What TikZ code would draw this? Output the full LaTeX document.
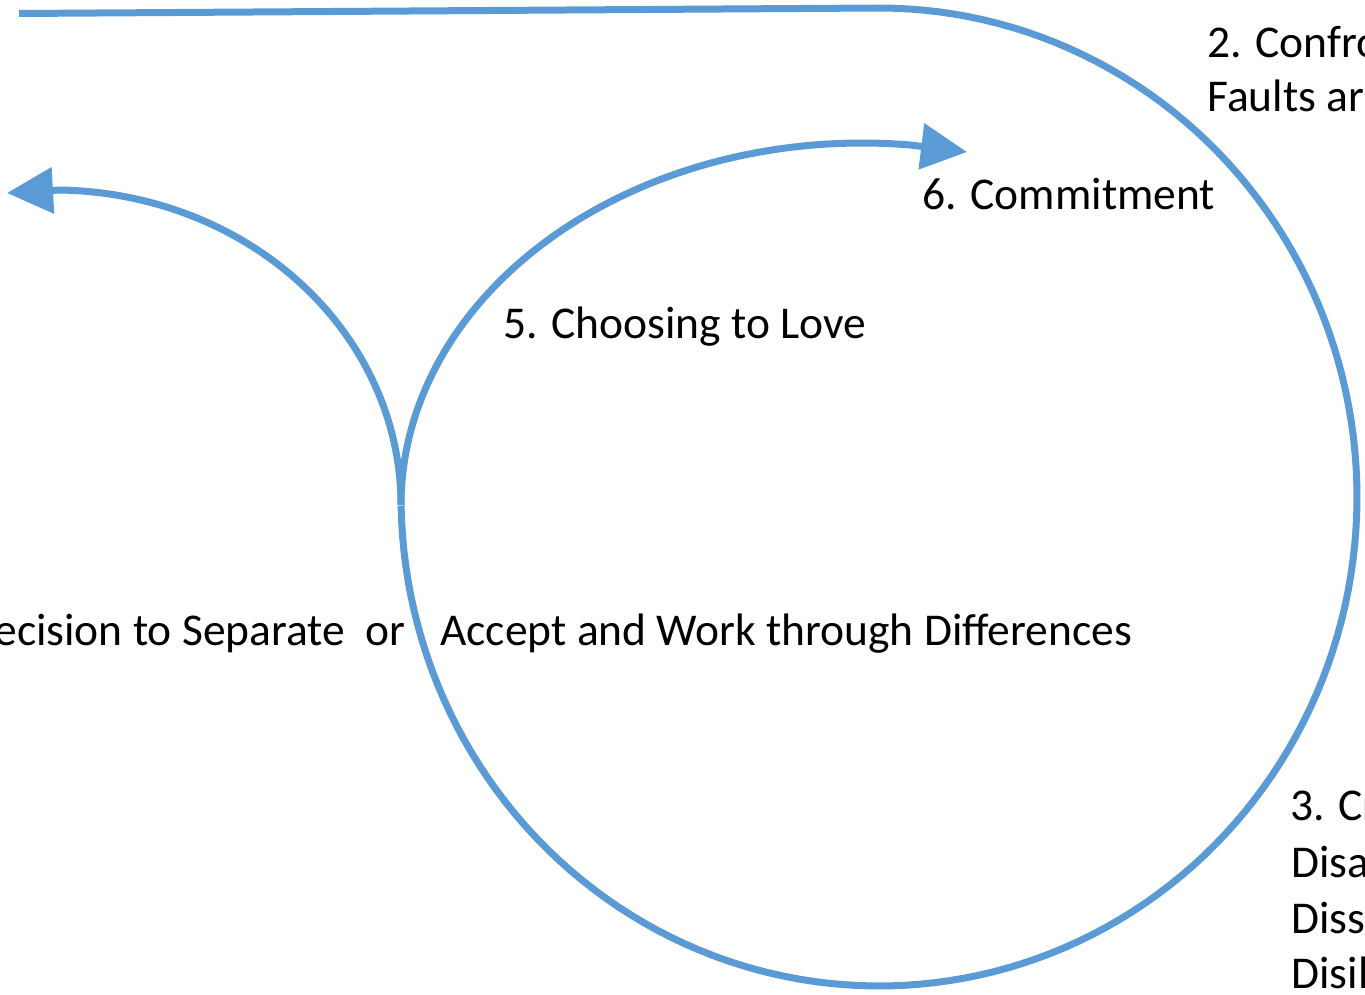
\documentclass[tikz,border=0pt]{standalone}
\usepackage{fontspec}
\setmainfont{Carlito}
\usetikzlibrary{arrows.meta}
\definecolor{lblue}{HTML}{5B9BD5}
\begin{document}
\begin{tikzpicture}[x=0.5pt,y=-0.5pt,
  spiral/.style={draw=lblue, line width=3.5pt, line join=round},
  tipped/.style={-{Triangle[length=23pt,width=22.5pt]}},
  lbl/.style={font=\fontsize{22.75pt}{27.5pt}\selectfont, inner sep=0pt, anchor=base west, text=black}]
\useasboundingbox (0,0) rectangle (1365,995);
% named points of the spiral
\coordinate (topstart) at (19,13.5);
\coordinate (toptop) at (879,8);
\coordinate (junction) at (401,505);
\coordinate (lefttip) at (7,193);
\coordinate (righttip) at (967,152);
% big loop
\draw[spiral] (topstart) -- (toptop)
  -- plot[domain=-90:179, samples=150, variable=\t] ({879+478*cos(\t)},{497+489*sin(\t)});
% branch to the left
\draw[spiral, tipped] plot[domain=0:-89, samples=90, variable=\t] ({54+347*cos(\t)},{505+315*sin(\t)}) -- (lefttip);
% branch to the right
\draw[spiral, tipped] plot[domain=180:276, samples=100, variable=\t] ({862+461*cos(\t)},{505+362*sin(\t)}) -- (righttip);
% labels
\node[lbl] (t2a) at (1207,58) {2. Confro};
\node[lbl] (t2b) at (1207,112) {Faults ar};
\node[lbl] (t6) at (922,209) {6. Commitment};
\node[lbl] (t5) at (503,338) {5. Choosing to Love};
\node[lbl, anchor=base east] (t4a) at (406,645) {ecision to Separate\ \ or};
\node[lbl] (t4b) at (440,645) {Accept and Work through Differences};
\node[lbl] (t3a) at (1290,820) {3. Cr};
\node[lbl] (t3b) at (1291,877) {Disa};
\node[lbl] (t3c) at (1291,933) {Diss};
\node[lbl] (t3d) at (1291,988) {Disil};
\end{tikzpicture}
\end{document}
